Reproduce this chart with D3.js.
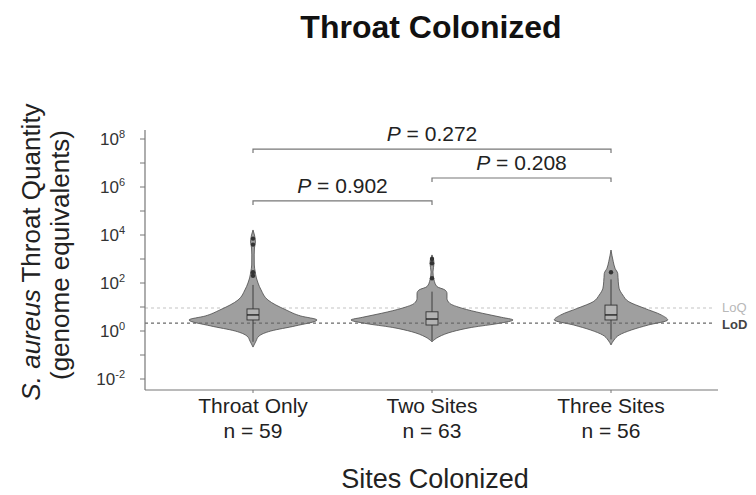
<!DOCTYPE html>
<meta charset="utf-8">
<title>Throat Colonized</title>
<style>
body { margin: 0; background: #fff; }
text { font-family: "Liberation Sans", Arial, sans-serif; }
</style>
<body>
<svg width="756" height="495" id="svg"></svg>
<script src="https://d3js.org/d3.v7.min.js"></script>
<script>

// categories and counts
var categories = ["Throat Only", "Two Sites", "Three Sites"];
var sampleSizes = [59, 63, 56];

// violin outlines: [log10 quantity, relative density]
var densityThroat = [[4.21,0],[4.0,0.018],[3.71,0.03],[3.46,0.018],[3.17,0.015],[2.75,0.016],[2.46,0.028],
  [2.21,0.042],[2.0,0.062],[1.71,0.1],[1.29,0.185],[0.875,0.41],[0.625,0.59],[0.46,0.79],[0.21,0.52],
  [0,0.22],[-0.21,0.074],[-0.42,0.037],[-0.67,0]];
var densityTwo = [[3.17,0],[3.04,0.014],[2.83,0.025],[2.46,0.012],[2.125,0.025],[1.85,0.062],[1.71,0.16],
  [1.57,0.185],[1.36,0.185],[1.15,0.22],[0.95,0.37],[0.74,0.62],[0.57,0.86],[0.46,1.0],[0.32,0.83],
  [0.15,0.49],[-0.03,0.25],[-0.24,0.086],[-0.45,0]];
var densityThree = [[3.375,0],[2.89,0.028],[2.61,0.05],[2.4,0.083],[2.05,0.09],[1.78,0.1],[1.5,0.145],
  [1.22,0.22],[0.95,0.41],[0.67,0.62],[0.46,0.70],[0.25,0.46],[0.04,0.25],[-0.17,0.1],[-0.375,0.037],[-0.58,0]];
var densities = [densityThroat, densityTwo, densityThree];

// box plot stats in log10 units
var q1 = [0.46, 0.25, 0.46];
var medians = [0.67, 0.5, 0.67];
var q3 = [0.92, 0.8, 1.08];
var whiskerLow = [-0.45, -0.4, -0.35];
var whiskerHigh = [1.92, 1.64, 2.15];
var outliers = [[3.85, 3.6, 2.45, 2.3], [3.0, 2.82, 2.2], [2.45]];

// limits (genome equivalents)
var LoQ = 9.1, LoD = 2.15;

// pairwise comparisons
var pairs = [[0, 2], [1, 2], [0, 1]];
var pValues = ["0.272", "0.208", "0.902"];
var bracketLevels = [7.58, 6.375, 5.42];

var yTickExps = [-2, 0, 2, 4, 6, 8];

var svg = d3.select("svg");
var plotLeft = 145, plotRight = 718, plotTop = 130, plotBottom = 390;

var y = d3.scaleLog().domain([Math.pow(10, -2.458), Math.pow(10, 8.375)]).range([plotBottom, plotTop]);
var x = d3.scalePoint().domain(categories).range([253, 611]);
var w = d3.scaleLinear().domain([0, 1]).range([0, 81]);

function yl(e) { return y(Math.pow(10, e)); }

// title
svg.append("text")
    .attr("x", 431).attr("y", 38)
    .attr("text-anchor", "middle")
    .attr("font-size", "32px").attr("font-weight", "bold")
    .attr("fill", "#111")
    .text("Throat Colonized");

// LoQ line (behind violins)
svg.append("line")
    .attr("x1", plotLeft).attr("x2", 713)
    .attr("y1", y(LoQ)).attr("y2", y(LoQ))
    .attr("stroke", "#c4c4c4").attr("stroke-width", 1.2)
    .attr("stroke-dasharray", "3,3");

// violins
var area = d3.area()
    .curve(d3.curveMonotoneY)
    .y(function(d) { return yl(d[0]); });

categories.forEach(function(c, i) {
  var cx = x(c);
  area.x0(function(d) { return cx - w(d[1]); })
      .x1(function(d) { return cx + w(d[1]); });
  svg.append("path")
      .attr("d", area(densities[i]))
      .attr("fill", "#9f9f9f")
      .attr("stroke", "#4a4a4a")
      .attr("stroke-width", 0.8);
});

// LoD line (over violins)
svg.append("line")
    .attr("x1", plotLeft).attr("x2", 713)
    .attr("y1", y(LoD)).attr("y2", y(LoD))
    .attr("stroke", "#6a6a6a").attr("stroke-width", 1.2)
    .attr("stroke-dasharray", "3,3");

// box plots
categories.forEach(function(c, i) {
  var cx = x(c), bw = 12;
  var g = svg.append("g");
  g.append("line")
      .attr("x1", cx).attr("x2", cx)
      .attr("y1", yl(whiskerLow[i])).attr("y2", yl(whiskerHigh[i]))
      .attr("stroke", "#333").attr("stroke-width", 0.9);
  g.append("rect")
      .attr("x", cx - bw / 2).attr("width", bw)
      .attr("y", yl(q3[i])).attr("height", yl(q1[i]) - yl(q3[i]))
      .attr("fill", "#b3b3b3").attr("stroke", "#333").attr("stroke-width", 0.9);
  g.append("line")
      .attr("x1", cx - bw / 2).attr("x2", cx + bw / 2)
      .attr("y1", yl(medians[i])).attr("y2", yl(medians[i]))
      .attr("stroke", "#222").attr("stroke-width", 1.4);
  g.selectAll("circle")
      .data(outliers[i])
      .enter().append("circle")
      .attr("cx", cx).attr("cy", function(d) { return yl(d); })
      .attr("r", 2.2).attr("fill", "#333");
});

// y axis
var yAxis = svg.append("g");
yAxis.append("line")
    .attr("x1", plotLeft).attr("x2", plotLeft).attr("y1", plotTop).attr("y2", plotBottom)
    .attr("stroke", "#777").attr("stroke-width", 1.2);
d3.range(-2, 9).forEach(function(e) {
  yAxis.append("line")
      .attr("x1", plotLeft - 5).attr("x2", plotLeft)
      .attr("y1", yl(e)).attr("y2", yl(e))
      .attr("stroke", "#777").attr("stroke-width", 1);
});
yTickExps.forEach(function(e) {
  var t = yAxis.append("text")
      .attr("x", 125).attr("y", yl(e) + 6)
      .attr("text-anchor", "end")
      .attr("font-size", "17px").attr("fill", "#333");
  t.append("tspan").text("10");
  t.append("tspan").attr("dy", -7).attr("font-size", "11px").text(e);
});

// y axis title
var yt = svg.append("text")
    .attr("transform", "translate(40,252) rotate(-90)")
    .attr("text-anchor", "middle")
    .attr("font-size", "26px").attr("fill", "#222");
yt.append("tspan").text("S. ").attr("font-style", "italic");
yt.append("tspan").text("aureus").attr("font-style", "italic");
yt.append("tspan").text(" Throat Quantity");
svg.append("text")
    .attr("transform", "translate(69,255) rotate(-90)")
    .attr("text-anchor", "middle")
    .attr("font-size", "26px").attr("fill", "#222")
    .text("(genome equivalents)");

// x axis
svg.append("line")
    .attr("x1", plotLeft).attr("x2", plotRight).attr("y1", plotBottom).attr("y2", plotBottom)
    .attr("stroke", "#777").attr("stroke-width", 1.2);
categories.forEach(function(c, i) {
  svg.append("line")
      .attr("x1", x(c)).attr("x2", x(c)).attr("y1", plotBottom).attr("y2", plotBottom + 3)
      .attr("stroke", "#777");
  svg.append("text")
      .attr("x", x(c)).attr("y", 413)
      .attr("text-anchor", "middle")
      .attr("font-size", "21px").attr("fill", "#222")
      .text(c);
  svg.append("text")
      .attr("x", x(c)).attr("y", 438)
      .attr("text-anchor", "middle")
      .attr("font-size", "21px").attr("fill", "#222")
      .text("n = " + sampleSizes[i]);
});
svg.append("text")
    .attr("x", 435).attr("y", 488)
    .attr("text-anchor", "middle")
    .attr("font-size", "27px").attr("fill", "#222")
    .text("Sites Colonized");

// LoQ / LoD labels
svg.append("text")
    .attr("x", 722).attr("y", y(LoQ) + 4)
    .attr("font-size", "13px").attr("fill", "#b8b8b8")
    .text("LoQ");
svg.append("text")
    .attr("x", 722).attr("y", y(LoD) + 6)
    .attr("font-size", "13px").attr("font-weight", "bold").attr("fill", "#444")
    .text("LoD");

// comparison brackets
pairs.forEach(function(p, i) {
  var x1 = x(categories[p[0]]), x2 = x(categories[p[1]]), by = yl(bracketLevels[i]);
  svg.append("path")
      .attr("d", "M" + x1 + "," + (by + 4) + "V" + by + "H" + x2 + "V" + (by + 4))
      .attr("fill", "none").attr("stroke", "#777").attr("stroke-width", 1.2);
  var t = svg.append("text")
      .attr("x", (x1 + x2) / 2).attr("y", by - 8)
      .attr("text-anchor", "middle")
      .attr("font-size", "21px").attr("fill", "#222");
  t.append("tspan").attr("font-style", "italic").text("P");
  t.append("tspan").text(" = " + pValues[i]);
});

</script>
</body>
